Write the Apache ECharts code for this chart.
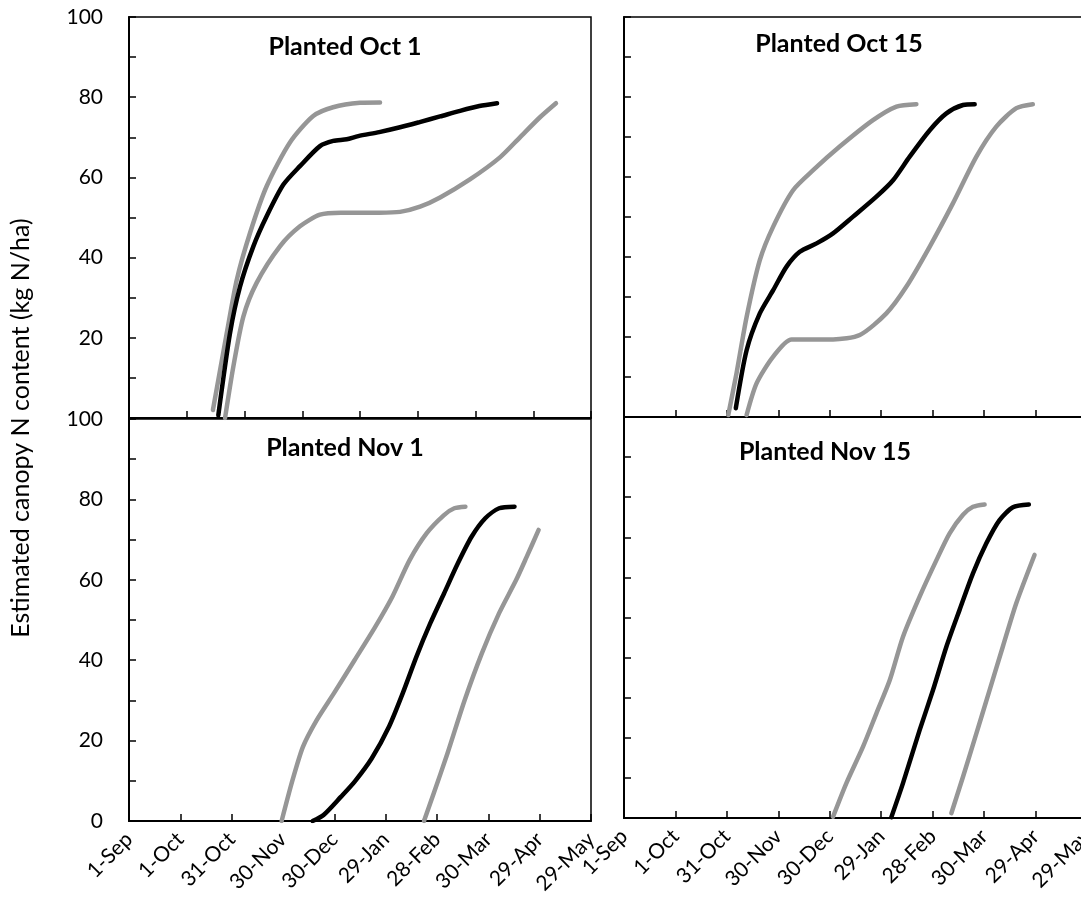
<!DOCTYPE html>
<html>
<head>
<meta charset="utf-8">
<script src="https://cdn.jsdelivr.net/npm/echarts@6/dist/echarts.min.js"></script>
<style>
  html, body { margin: 0; padding: 0; background: #fff; }
  #chart { width: 1081px; height: 917px; }
</style>
</head>
<body>
<div id="chart"></div>
<script>
// x = days after 1-Sep, y = canopy N (kg N/ha)
const dateLabels = ['1-Sep', '1-Oct', '31-Oct', '30-Nov', '30-Dec', '29-Jan', '28-Feb', '30-Mar', '29-Apr', '29-May']
const panelTitles = ['Planted Oct 1', 'Planted Oct 15', 'Planted Nov 1', 'Planted Nov 15']

// Planted Oct 1
const oct1High = [[43.6, 2], [50.8, 21.2], [56, 34.5], [62.9, 46.2], [71.5, 57.8], [83.6, 68.7], [95.7, 75.3], [106, 77.5], [120, 78.6], [130.4, 78.7]]
const oct1Mid = [[46.4, 0.7], [52.5, 21.2], [57.7, 32.8], [64.6, 42.8], [71.5, 50.3], [80.2, 58.2], [88.8, 62.8], [99.2, 67.8], [106.1, 69.1], [113.1, 69.5], [119.1, 70.3], [130, 71.3], [140.8, 72.5], [151, 73.8], [161.6, 75.2], [172, 76.6], [182, 77.8], [191.2, 78.5]]
const oct1Low = [[49.9, 0], [54.2, 12.8], [59.4, 25.3], [66.3, 33.7], [78.4, 42.8], [88.8, 47.8], [99.2, 50.7], [110, 51.2], [120, 51.2], [130, 51.2], [140.8, 51.4], [151.2, 52.7], [161.6, 55], [177.1, 59.5], [192.7, 65], [203.1, 70], [213.5, 75], [221.8, 78.5]]

// Planted Oct 15
const oct15High = [[60.8, 0.5], [65.6, 10.9], [71.5, 25], [79.2, 39.2], [87, 47.6], [98.6, 56.7], [110.3, 61.7], [125.8, 67.6], [145.2, 74.2], [158.9, 77.6], [170.5, 78.2]]
const oct15Mid = [[65.2, 2.2], [71.5, 16.7], [79.2, 25.9], [87, 31.7], [94.8, 37.6], [102.5, 41.3], [112.3, 43.4], [121.9, 45.9], [133.6, 50.1], [147.2, 55.1], [156.9, 59.2], [166.6, 65.1], [178.3, 71.7], [188, 75.9], [197.7, 78], [204.5, 78.2]]
const oct15Low = [[71.5, 0.5], [77.3, 8.4], [87, 15.1], [97.7, 19.4], [121.9, 19.4], [137.5, 20.5], [153, 25.9], [164.7, 32.6], [178.3, 42.6], [191.8, 53.4], [205.5, 65.1], [217.1, 72.6], [228.8, 77.2], [238.4, 78.2]]

// Planted Nov 1
const nov1High = [[89.2, 0], [95.6, 10.2], [101.7, 18.5], [109.7, 25.1], [119.8, 31.8], [131.8, 40], [143.9, 48.3], [153.9, 55.8], [164, 64.9], [174, 71.6], [184.1, 76.1], [190.1, 77.8], [196.6, 78.2]]
const nov1Mid = [[107.3, 0], [113.7, 1.5], [123.8, 6], [131.9, 9.8], [141.9, 15.6], [152, 23.5], [160, 31.8], [168, 40.9], [176.1, 49.2], [184.1, 56.6], [192.2, 64.1], [200.2, 70.7], [208.2, 75.3], [216.3, 77.8], [225.3, 78.2]]
const nov1Low = [[172.4, 0], [178.1, 6.9], [186.1, 16.8], [196.2, 30.1], [206.2, 41.7], [216.3, 51.7], [226.3, 60], [232.4, 65.7], [239.4, 72.4]]

// Planted Nov 15
const nov15High = [[121.9, 0.3], [129.7, 8.7], [139.4, 17.8], [147.2, 26.1], [155, 34.4], [162.7, 45.2], [172.4, 55.2], [182.2, 64.3], [189.9, 71], [197.7, 75.6], [203.5, 77.6], [210.3, 78.2]]
const nov15Mid = [[155.9, 0.2], [162.7, 8.7], [172.4, 21.9], [180.2, 31.9], [188, 42.7], [195.7, 51.9], [203.5, 61], [211.3, 68.5], [219, 74.3], [226.8, 77.5], [236.1, 78.2]]
const nov15Low = [[190.9, 1.2], [197.7, 10.3], [205.5, 21.1], [213.2, 31.9], [220.9, 42.7], [228.7, 53.5], [239.4, 65.6]]

const GRAY = '#969696'
const BLACK = '#000000'
const FONT = 'Lato, Carlito, Calibri, sans-serif'

const chart = echarts.init(document.getElementById('chart'))

function makeX(i, max, showLabel) {
  return {
    gridIndex: i,
    type: 'value',
    min: 0,
    max: max,
    interval: 30,
    axisLine: { show: true, onZero: false, lineStyle: { color: '#000', width: 2 } },
    axisTick: { show: true, inside: true, length: 7, lineStyle: { color: '#000', width: 1.5 } },
    axisLabel: {
      show: showLabel,
      rotate: 45,
      margin: 15,
      fontSize: 21,
      fontFamily: FONT,
      color: '#000',
      showMinLabel: true,
      showMaxLabel: true,
      hideOverlap: false,
      formatter: function(v) { return dateLabels[Math.round(v / 30)] }
    },
    splitLine: { show: false }
  }
}

function makeY(i, showLabel, hideZero) {
  return {
    gridIndex: i,
    type: 'value',
    min: 0,
    max: 100,
    interval: 20,
    axisLine: { show: true, onZero: false, lineStyle: { color: '#000', width: 2 } },
    axisTick: { show: true, inside: true, length: 7, lineStyle: { color: '#000', width: 1.5 } },
    minorTick: { show: true, splitNumber: 2, length: 7, lineStyle: { color: '#000', width: 1.5 } },
    axisLabel: {
      show: showLabel,
      margin: 26,
      fontSize: 21,
      fontFamily: FONT,
      color: '#000',
      formatter: function(v) { return (hideZero && v === 0) ? '' : String(v) }
    },
    splitLine: { show: false }
  }
}

function line(i, data, color) {
  return {
    type: 'line',
    xAxisIndex: i,
    yAxisIndex: i,
    data: data,
    smooth: 0.25,
    showSymbol: false,
    symbol: 'none',
    silent: true,
    lineStyle: { color: color, width: 4.5, cap: 'round', join: 'round' }
  }
}

const gridBox = { show: true, borderColor: '#000', borderWidth: 1.5, backgroundColor: 'transparent', outerBoundsMode: 'none', containLabel: false }

const titlePos = [[345, 47], [839, 44], [345, 448], [825, 452]]

chart.setOption({
  animation: false,
  grid: [
    Object.assign({ left: 129, top: 17, width: 462, height: 401 }, gridBox),
    Object.assign({ left: 624, top: 17, width: 463, height: 400 }, gridBox),
    Object.assign({ left: 129, top: 419, width: 462, height: 402 }, gridBox),
    Object.assign({ left: 624, top: 417, width: 463, height: 401 }, gridBox)
  ],
  xAxis: [
    makeX(0, 240, false),
    makeX(1, 270, false),
    makeX(2, 270, true),
    makeX(3, 270, true)
  ],
  yAxis: [
    makeY(0, true, true),
    makeY(1, false, false),
    makeY(2, true, false),
    makeY(3, false, false)
  ],
  series: [
    line(0, oct1High, GRAY), line(0, oct1Low, GRAY), line(0, oct1Mid, BLACK),
    line(1, oct15High, GRAY), line(1, oct15Low, GRAY), line(1, oct15Mid, BLACK),
    line(2, nov1High, GRAY), line(2, nov1Low, GRAY), line(2, nov1Mid, BLACK),
    line(3, nov15High, GRAY), line(3, nov15Low, GRAY), line(3, nov15Mid, BLACK)
  ],
  graphic: [
    {
      type: 'text',
      x: 21,
      y: 428,
      rotation: Math.PI / 2,
      style: {
        text: 'Estimated canopy N content (kg N/ha)',
        font: '25px ' + FONT,
        fill: '#000',
        textAlign: 'center',
        textVerticalAlign: 'middle'
      }
    }
  ].concat(panelTitles.map(function(t, k) {
    return {
      type: 'text',
      x: titlePos[k][0],
      y: titlePos[k][1],
      style: {
        text: t,
        font: 'bold 25px ' + FONT,
        fill: '#000',
        textAlign: 'center',
        textVerticalAlign: 'middle'
      }
    }
  }))
})
</script>
</body>
</html>
